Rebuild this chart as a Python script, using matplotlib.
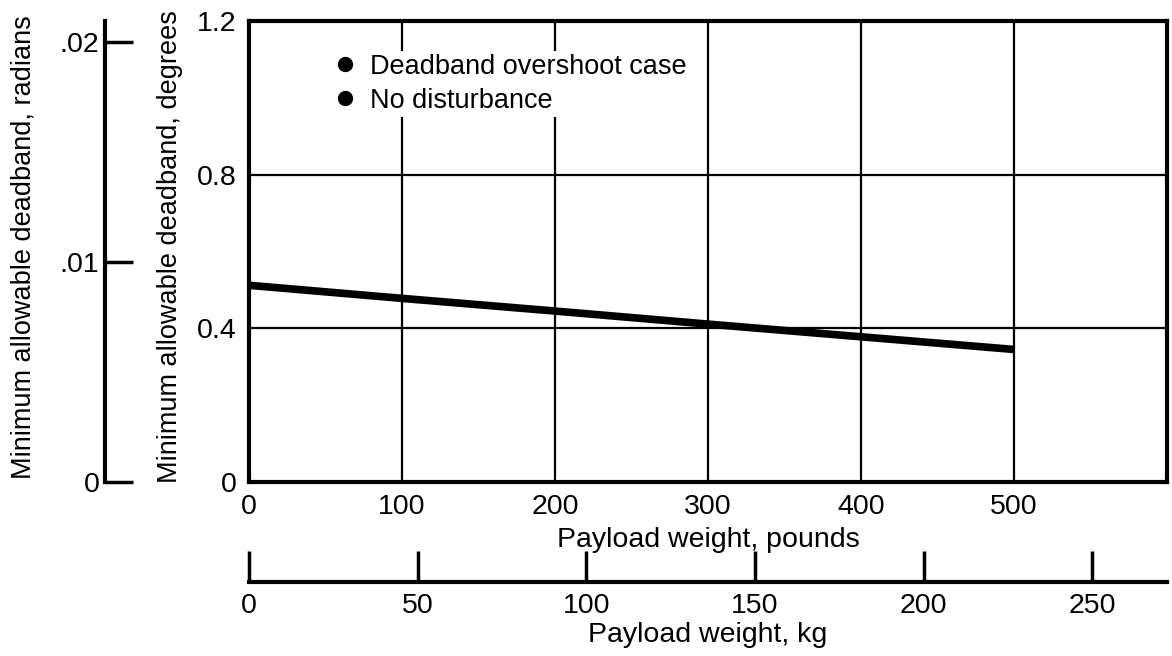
import numpy as np
import matplotlib.pyplot as plt
from matplotlib.lines import Line2D

plt.rcParams['font.family'] = ['Liberation Sans', 'DejaVu Sans']

# deadband curve (payload in pounds, deadband in degrees)
payload_lb = [0, 100, 200, 300, 400, 500]
deadband_deg = [0.512, 0.478, 0.445, 0.411, 0.378, 0.345]

lb_ticks = [0, 100, 200, 300, 400, 500]
deg_ticks = [0, 0.4, 0.8, 1.2]
deg_ticklabels = ['0', '0.4', '0.8', '1.2']
rad_ticks = [0, 0.01, 0.02]
rad_ticklabels = ['0', '.01', '.02']
kg_ticks = [0, 50, 100, 150, 200, 250]
legend_labels = ['Deadband overshoot case', 'No disturbance']

LB_PER_KG = 2.20462
x_max_lb = 600
y_max_deg = 1.2

W, H = 1172, 656
fig = plt.figure(figsize=(W / 100, H / 100), dpi=100)

def px_box(left, top, right, bottom):
    return [left / W, 1 - bottom / H, (right - left) / W, (bottom - top) / H]

fs = 20.5
fs_ylab = 19.5

# main plot, degrees vs pounds
ax = fig.add_axes(px_box(249, 21, 1167, 482))
ax.plot(payload_lb, deadband_deg, color='black', lw=5.5, solid_capstyle='butt', zorder=3)
ax.set_xlim(0, x_max_lb)
ax.set_ylim(0, y_max_deg)
ax.set_xticks(lb_ticks)
ax.set_yticks(deg_ticks)
ax.set_yticklabels(deg_ticklabels)
ax.tick_params(length=0, labelsize=fs, pad=9)
ax.grid(True, color='black', lw=1.6)
for s in ax.spines.values():
    s.set_linewidth(3)
    s.set_color('black')
ax.set_xlabel('Payload weight, pounds', fontsize=fs, labelpad=5)
ax.set_ylabel('Minimum allowable deadband, degrees', fontsize=fs_ylab)
ax.yaxis.set_label_coords(-0.072, 0.51)

handles = [Line2D([], [], ls='none', marker='o', ms=10, color='black', label=t)
           for t in legend_labels]
leg = ax.legend(handles=handles, loc='upper left', bbox_to_anchor=(0.093, 0.935),
                fontsize=19.5, frameon=True, handlelength=0.6, handletextpad=0.6,
                labelspacing=0.3, borderpad=0.1, borderaxespad=0)
leg.get_frame().set_facecolor('white')
leg.get_frame().set_edgecolor('none')
leg.get_frame().set_alpha(1)

# radians scale on the far left
ax_rad = fig.add_axes(px_box(105, 21, 106, 482))
ax_rad.set_ylim(0, np.deg2rad(y_max_deg))
ax_rad.set_yticks(rad_ticks)
ax_rad.set_yticklabels(rad_ticklabels)
ax_rad.set_xticks([])
ax_rad.patch.set_visible(False)
for k in ['top', 'right', 'bottom']:
    ax_rad.spines[k].set_visible(False)
ax_rad.spines['left'].set_linewidth(3)
ax_rad.tick_params(axis='y', direction='in', length=20, width=2.5, labelsize=fs, pad=4)
ax_rad.set_ylabel('Minimum allowable deadband, radians', fontsize=fs_ylab)
ax_rad.yaxis.set_label_coords(-68, 0.51)

# kilogram scale under the plot
ax_kg = fig.add_axes(px_box(249, 560, 1167, 582))
ax_kg.set_xlim(0, x_max_lb / LB_PER_KG)
ax_kg.set_xticks(kg_ticks)
ax_kg.set_yticks([])
ax_kg.patch.set_visible(False)
for k in ['top', 'right', 'left']:
    ax_kg.spines[k].set_visible(False)
ax_kg.spines['bottom'].set_linewidth(3)
ax_kg.tick_params(axis='x', direction='in', length=22, width=2.5, labelsize=fs, pad=8)
ax_kg.set_xlabel('Payload weight, kg', fontsize=fs, labelpad=2)

fig.savefig('out.png', dpi=100)
